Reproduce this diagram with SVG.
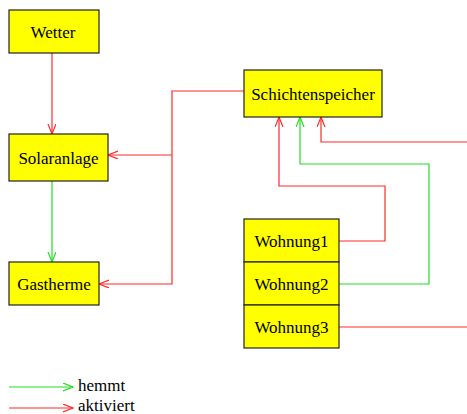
<svg xmlns="http://www.w3.org/2000/svg" width="467" height="414" viewBox="0 0 467 414">
<style>
.box{fill:#ffff00;stroke:#222;stroke-width:1.2}
.lbl{font-family:'Liberation Serif','DejaVu Serif',serif;font-size:17px;fill:#000;text-anchor:middle}
.leg{font-family:'Liberation Serif','DejaVu Serif',serif;font-size:17px;fill:#000}
.r{fill:none;stroke:#ff2a2a;stroke-width:1.2}
.g{fill:none;stroke:#22dd22;stroke-width:1.2}
</style>
<defs>
<marker id="ar" markerUnits="userSpaceOnUse" markerWidth="12" markerHeight="10" refX="10" refY="4" orient="auto" viewBox="0 0 12 10">
<path d="M0,0 L10,4 L0,8" fill="none" stroke="#ff2a2a" stroke-width="1.2"/>
</marker>
<marker id="ag" markerUnits="userSpaceOnUse" markerWidth="12" markerHeight="10" refX="10" refY="4" orient="auto" viewBox="0 0 12 10">
<path d="M0,0 L10,4 L0,8" fill="none" stroke="#22dd22" stroke-width="1.2"/>
</marker>
</defs>
<g id="connectors">
<path class="r" d="M52,53 V134" marker-end="url(#ar)"/>
<path class="g" d="M52,181 V262" marker-end="url(#ag)"/>
<path class="r" d="M244,91 H172 V284 H99" marker-end="url(#ar)"/>
<path class="r" d="M172,155 H108" marker-end="url(#ar)"/>
<path class="r" d="M339,241 H385 V186 H279 V117" marker-end="url(#ar)"/>
<path class="g" d="M339,284 H429 V164 H300 V117" marker-end="url(#ag)"/>
<path class="r" d="M467,142 H321 V117" marker-end="url(#ar)"/>
<path class="r" d="M339,327 H467"/>
<path class="g" d="M9,387 H73" marker-end="url(#ag)"/>
<path class="r" d="M9,408 H73" marker-end="url(#ar)"/>
</g>
<g id="wetter"><rect class="box" x="9" y="10" width="90" height="43"/><text class="lbl" x="53" y="37.5" font-family="Liberation Serif, serif">Wetter</text></g>
<g id="solaranlage"><rect class="box" x="9" y="134" width="99" height="47"/><text class="lbl" x="58.5" y="163.5">Solaranlage</text></g>
<g id="gastherme"><rect class="box" x="9" y="262" width="90" height="43"/><text class="lbl" x="54" y="289.5">Gastherme</text></g>
<g id="schichtenspeicher"><rect class="box" x="244" y="70" width="138" height="47"/><text class="lbl" x="313" y="99.5">Schichtenspeicher</text></g>
<g id="wohnung1"><rect class="box" x="244" y="219" width="95" height="43"/><text class="lbl" x="291.5" y="246.5">Wohnung1</text></g>
<g id="wohnung2"><rect class="box" x="244" y="262" width="95" height="43"/><text class="lbl" x="291.5" y="289.5">Wohnung2</text></g>
<g id="wohnung3"><rect class="box" x="244" y="305" width="95" height="43"/><text class="lbl" x="291.5" y="332.5">Wohnung3</text></g>
<g id="legend"><text class="leg" x="78" y="390.5">hemmt</text><text class="leg" x="78" y="410.5">aktiviert</text></g>
</svg>
